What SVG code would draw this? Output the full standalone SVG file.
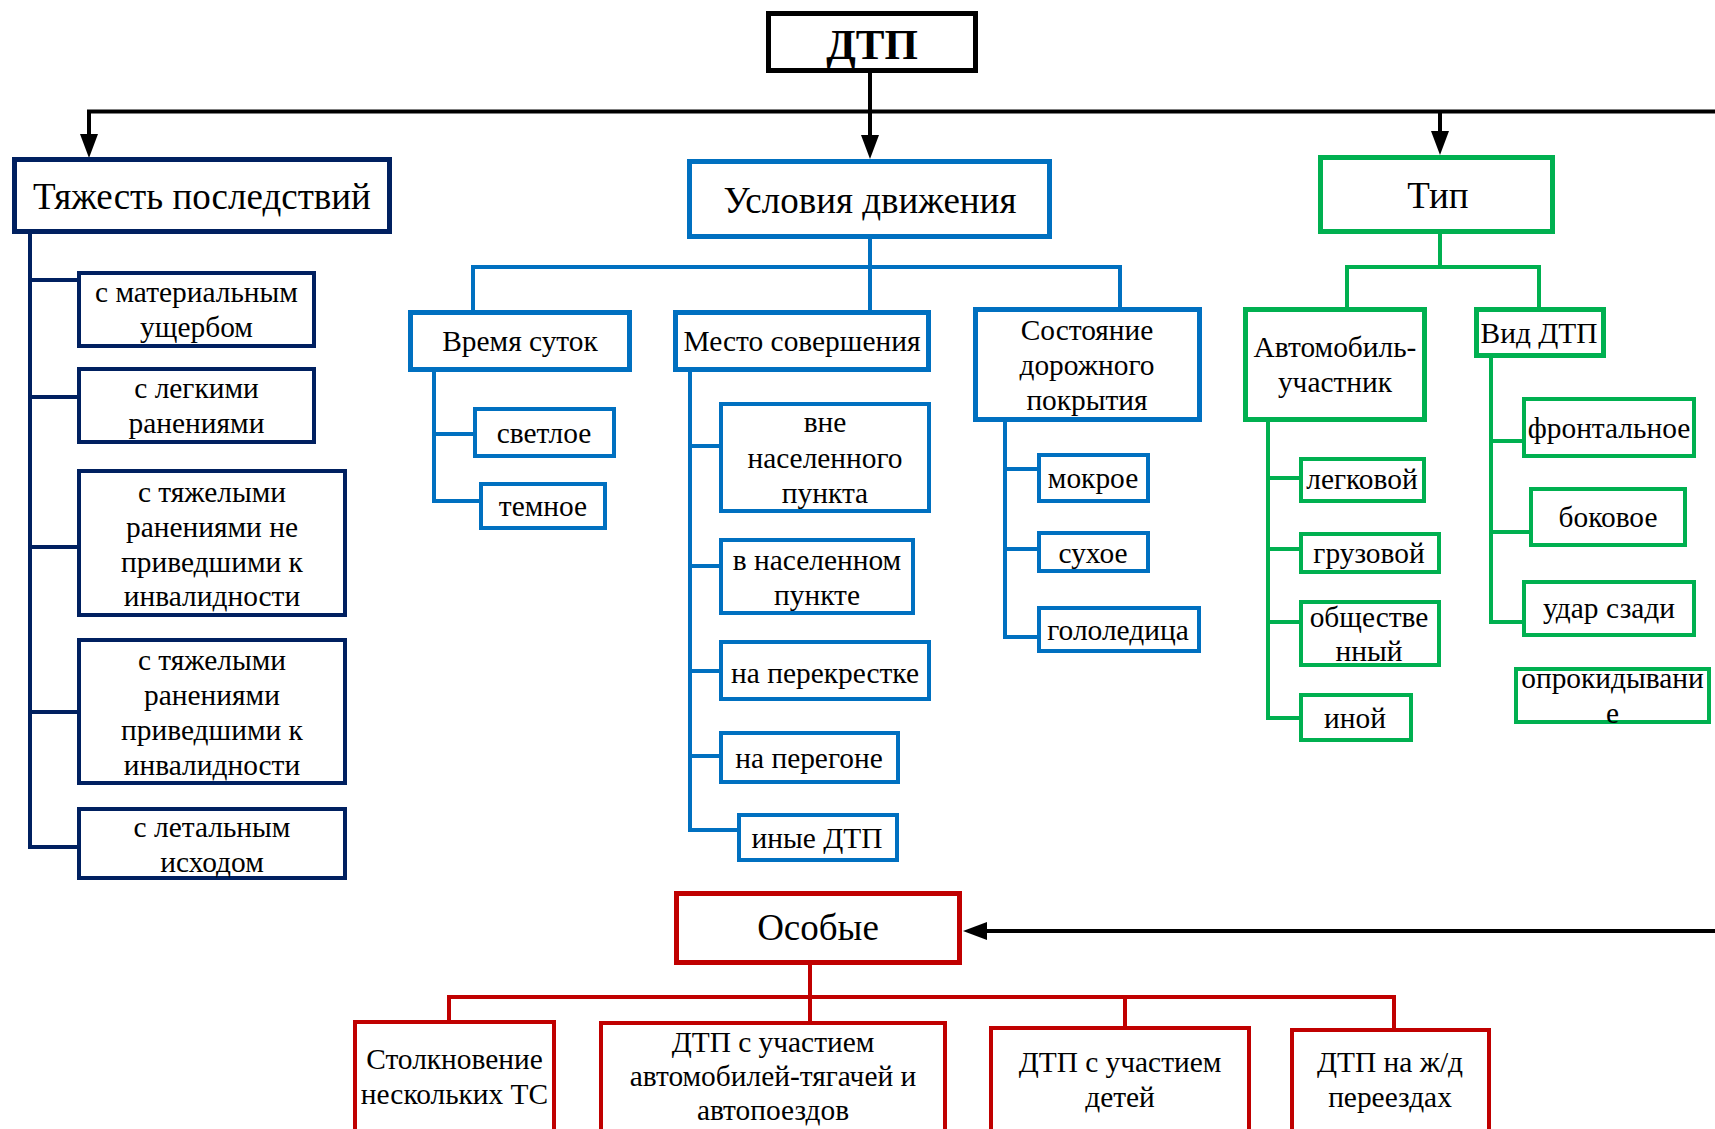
<svg xmlns="http://www.w3.org/2000/svg" width="1715" height="1129" viewBox="0 0 1715 1129">
<style>
text{font-family:"Liberation Serif","Times New Roman",serif;fill:#000;text-anchor:middle}
.t{font-size:37px}
.s{font-size:29.4px}
rect{fill:#fff}
.b5{stroke-width:5}
.b4{stroke-width:4}
.navy{stroke:#002060}
.blue{stroke:#0070C0}
.green{stroke:#00B050}
.red{stroke:#C00000}
.blk{stroke:#000}
path{fill:none;stroke-width:4}
</style>
<defs>
<marker id="ah" markerUnits="userSpaceOnUse" markerWidth="24" markerHeight="18" refX="0" refY="9" orient="auto" viewBox="0 0 24 18">
<path d="M0 0 L24 9 L0 18 z" style="fill:#000;stroke:none"/>
</marker>
</defs>

<g id="connectors">
<path class="blk" d="M870 73 V135" marker-end="url(#ah)"/>
<path class="blk" d="M1715 111.5 H89 V134" marker-end="url(#ah)"/>
<path class="blk" d="M1440 111.5 V131" marker-end="url(#ah)"/>
<path class="blk" d="M1715 931 H987" marker-end="url(#ah)"/>
<path class="navy" d="M30 234 V847 H77 M30 280 H77 M30 397 H77 M30 547 H77 M30 712 H77"/>
<path class="blue" d="M870 239 V310 M473 310 V267 H1120 V307"/>
<path class="blue" d="M434 372 V501 H479 M434 434 H473"/>
<path class="blue" d="M690 372 V830 H737 M690 446 H719 M690 566 H719 M690 671 H719 M690 756 H719"/>
<path class="blue" d="M1005 422 V637 H1037 M1005 469 H1037 M1005 549 H1037"/>
<path class="green" d="M1440 234 V267 M1347 307 V267 H1539 V307"/>
<path class="green" d="M1268 422 V718 H1299 M1268 478 H1299 M1268 549 H1299 M1268 622 H1299"/>
<path class="green" d="M1491 358 V622 H1522 M1491 441 H1522 M1491 532 H1529"/>
<path class="red" d="M810 965 V1021 M449 1020 V997 H1394 V1028 M1125 997 V1026"/>
</g>

<g id="dtp"><rect class="blk b5" x="768.5" y="13.5" width="207" height="57"/><text x="872" y="59" style="font-size:43px;font-weight:bold">ДТП</text></g>

<g id="tyazhest"><rect class="navy b5" x="14.5" y="159.5" width="375" height="72"/><text class="t" x="202" y="209">Тяжесть последствий</text></g>
<g id="n-mat"><rect class="navy b4" x="79" y="273" width="235" height="73"/><text class="s" x="196.5" y="302">с материальным</text><text class="s" x="196.5" y="337">ущербом</text></g>
<g id="n-legk"><rect class="navy b4" x="79" y="369" width="235" height="73"/><text class="s" x="196.5" y="398">с легкими</text><text class="s" x="196.5" y="433">ранениями</text></g>
<g id="n-tyazh-ne"><rect class="navy b4" x="79" y="471" width="266" height="144"/><text class="s" x="212" y="502">с тяжелыми</text><text class="s" x="212" y="537">ранениями не</text><text class="s" x="212" y="572">приведшими к</text><text class="s" x="212" y="606">инвалидности</text></g>
<g id="n-tyazh"><rect class="navy b4" x="79" y="640" width="266" height="143"/><text class="s" x="212" y="670">с тяжелыми</text><text class="s" x="212" y="705">ранениями</text><text class="s" x="212" y="740">приведшими к</text><text class="s" x="212" y="775">инвалидности</text></g>
<g id="n-let"><rect class="navy b4" x="79" y="809" width="266" height="69"/><text class="s" x="212" y="837">с летальным</text><text class="s" x="212" y="872">исходом</text></g>

<g id="usloviya"><rect class="blue b5" x="689.5" y="161.5" width="360" height="75"/><text class="t" x="870" y="213">Условия движения</text></g>
<g id="vremya"><rect class="blue b5" x="410.5" y="312.5" width="219" height="57"/><text class="s" x="520" y="351">Время суток</text></g>
<g id="svetloe"><rect class="blue b4" x="475" y="409" width="139" height="47"/><text class="s" x="544" y="443">светлое</text></g>
<g id="temnoe"><rect class="blue b4" x="481" y="484" width="124" height="44"/><text class="s" x="543" y="516">темное</text></g>
<g id="mesto"><rect class="blue b5" x="675.5" y="312.5" width="253" height="57"/><text class="s" x="802" y="351">Место совершения</text></g>
<g id="vne"><rect class="blue b4" x="721" y="404" width="208" height="107"/><text class="s" x="825" y="432">вне</text><text class="s" x="825" y="468">населенного</text><text class="s" x="825" y="503">пункта</text></g>
<g id="v-nas"><rect class="blue b4" x="721" y="540" width="192" height="73"/><text class="s" x="817" y="570">в населенном</text><text class="s" x="817" y="605">пункте</text></g>
<g id="perekr"><rect class="blue b4" x="721" y="642" width="208" height="57"/><text class="s" x="825" y="683">на перекрестке</text></g>
<g id="peregon"><rect class="blue b4" x="721" y="733" width="177" height="49"/><text class="s" x="809" y="768">на перегоне</text></g>
<g id="inye"><rect class="blue b4" x="739" y="815" width="158" height="45"/><text class="s" x="817" y="848">иные ДТП</text></g>
<g id="sostoyanie"><rect class="blue b5" x="975.5" y="309.5" width="224" height="110"/><text class="s" x="1087" y="340">Состояние</text><text class="s" x="1087" y="375">дорожного</text><text class="s" x="1087" y="410">покрытия</text></g>
<g id="mokroe"><rect class="blue b4" x="1039" y="455" width="109" height="46"/><text class="s" x="1093" y="488">мокрое</text></g>
<g id="sukhoe"><rect class="blue b4" x="1039" y="533" width="109" height="38"/><text class="s" x="1093" y="563">сухое</text></g>
<g id="gololed"><rect class="blue b4" x="1039" y="608" width="160" height="43"/><text class="s" x="1118" y="640">гололедица</text></g>

<g id="tip"><rect class="green b5" x="1320.5" y="157.5" width="232" height="74"/><text class="t" x="1438" y="208">Тип</text></g>
<g id="avto"><rect class="green b5" x="1245.5" y="309.5" width="179" height="110"/><text class="s" x="1335" y="357">Автомобиль-</text><text class="s" x="1335" y="392">участник</text></g>
<g id="legk"><rect class="green b4" x="1301" y="459" width="123" height="42"/><text class="s" x="1362" y="489">легковой</text></g>
<g id="gruz"><rect class="green b4" x="1301" y="534" width="138" height="38"/><text class="s" x="1369" y="563">грузовой</text></g>
<g id="obsch"><rect class="green b4" x="1301" y="602" width="138" height="63"/><text class="s" x="1369" y="627">обществе</text><text class="s" x="1369" y="661">нный</text></g>
<g id="inoy"><rect class="green b4" x="1301" y="695" width="110" height="45"/><text class="s" x="1355" y="728">иной</text></g>
<g id="vid"><rect class="green b5" x="1476.5" y="309.5" width="127" height="46"/><text class="s" x="1539" y="343">Вид ДТП</text></g>
<g id="front"><rect class="green b4" x="1524" y="399" width="170" height="57"/><text class="s" x="1609" y="438">фронтальное</text></g>
<g id="bok"><rect class="green b4" x="1531" y="489" width="154" height="56"/><text class="s" x="1608" y="527">боковое</text></g>
<g id="udar"><rect class="green b4" x="1524" y="582" width="170" height="53"/><text class="s" x="1609" y="618">удар сзади</text></g>
<g id="oprok"><rect class="green b4" x="1516" y="669" width="193" height="53"/><text class="s" x="1612.5" y="688">опрокидывани</text><text class="s" x="1612.5" y="723">е</text></g>

<g id="osobye"><rect class="red b5" x="676.5" y="893.5" width="283" height="69"/><text class="t" x="818" y="940">Особые</text></g>
<g id="stolkn"><rect class="red b4" x="355" y="1022" width="199" height="150"/><text class="s" x="454.5" y="1069">Столкновение</text><text class="s" x="454.5" y="1104">нескольких ТС</text></g>
<g id="tyagach"><rect class="red b4" x="601" y="1023" width="344" height="150"/><text class="s" x="773" y="1052">ДТП с участием</text><text class="s" x="773" y="1086">автомобилей-тягачей и</text><text class="s" x="773" y="1120">автопоездов</text></g>
<g id="deti"><rect class="red b4" x="991" y="1028" width="258" height="150"/><text class="s" x="1120" y="1072">ДТП с участием</text><text class="s" x="1120" y="1107">детей</text></g>
<g id="zhd"><rect class="red b4" x="1292" y="1030" width="197" height="150"/><text class="s" x="1390" y="1072">ДТП на ж/д</text><text class="s" x="1390" y="1107">переездах</text></g>
</svg>
